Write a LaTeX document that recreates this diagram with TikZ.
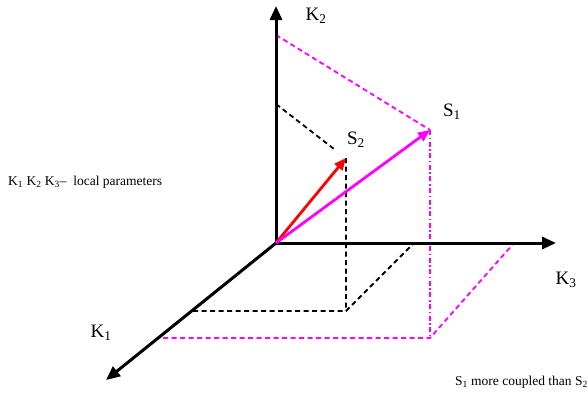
\documentclass[tikz,border=0pt]{standalone}
\usepackage{fontspec}
\setmainfont{Liberation Serif}
\usetikzlibrary{arrows.meta}
\definecolor{pinkline}{RGB}{255,0,255}

\begin{document}
\begin{tikzpicture}[x=1pt, y=-1pt,
  axis/.style={line width=3pt, -{Triangle[length=14pt, width=12pt]}},
  vec/.style={line width=2.8pt, -{Triangle[length=12pt, width=10pt]}},
  proj/.style={line width=1.8pt, dash pattern=on 5pt off 3.5pt},
  projdot/.style={line width=1.8pt, dash pattern=on 5pt off 2.5pt on 1.6pt off 2.5pt},
  lbl/.style={font=\fontsize{19}{22}\selectfont, inner sep=0pt},
  note/.style={font=\fontsize{13.5}{16}\selectfont, inner sep=0pt}]
  \useasboundingbox (0,0) rectangle (588,392);
  % axes
  \coordinate (o) at (276,243);
  \coordinate (k1tip) at (106,380);
  \coordinate (k2tip) at (276,6);
  \coordinate (k3tip) at (556,243);
  % vector ends
  \coordinate (s2) at (346,158);
  \coordinate (s1) at (430,130);
  % black projection of S2
  \coordinate (b2) at (276,104);
  \coordinate (b2end) at (334,149);
  \coordinate (bfoot) at (346,311);
  \coordinate (b1) at (193,311);
  \coordinate (b3) at (414,243);
  % magenta projection of S1
  \coordinate (m2) at (276,35);
  \coordinate (mfoot) at (430,338);
  \coordinate (m1) at (163,338);
  \coordinate (m3) at (514,243);

  \draw[proj] (b2)--(b2end);
  \draw[proj] (s2)--(bfoot) (b1)--(bfoot)--(b3);
  \draw[proj, pinkline] (m2)--(s1);
  \draw[projdot, pinkline] (s1)--(mfoot);
  \draw[proj, pinkline] (m1)--(mfoot)--(m3);

  \draw[axis] (o)--(k2tip);
  \draw[axis] (o)--(k3tip);
  \draw[axis] (o)--(k1tip);
  \draw[vec, red] (o)--(s2);
  \draw[vec, pinkline] (o)--(s1);

  \node[lbl] (k2) at (316,16) {K\textsubscript{2}};
  \node[lbl] (k3) at (566,280) {K\textsubscript{3}};
  \node[lbl] (k1) at (101,333) {K\textsubscript{1}};
  \node[lbl] (s1lbl) at (452,112) {S\textsubscript{1}};
  \node[lbl] (s2lbl) at (356,140) {S\textsubscript{2}};
  \node[note, anchor=west] (legend) at (8,182) {K\textsubscript{1} K\textsubscript{2} K\textsubscript{3}-- \ local parameters};
  \node[note, anchor=east] (remark) at (588,382) {S\textsubscript{1} more coupled than S\textsubscript{2}};
\end{tikzpicture}
\end{document}
